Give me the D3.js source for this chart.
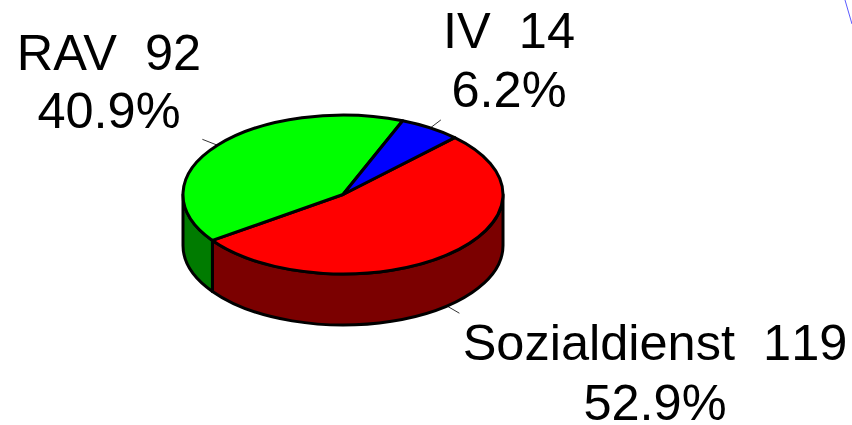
<!DOCTYPE html>
<html>
<head>
<meta charset="utf-8">
<script src="https://cdnjs.cloudflare.com/ajax/libs/d3/7.8.5/d3.min.js"></script>
<style>
html, body { margin: 0; padding: 0; background: #fff; overflow: hidden; }
text { font-family: "Liberation Sans", sans-serif; font-size: 50.5px; fill: #000; text-anchor: middle; }
</style>
</head>
<body>
<div id="chart"></div>
<script>
const categories = ['Sozialdienst', 'RAV', 'IV'];
const counts = [119, 92, 14];
const percents = ['52.9%', '40.9%', '6.2%'];
const topColors = ['#ff0000', '#00ff00', '#0000ff'];
const wallColors = ['#7b0000', '#007b00', '#00007b'];

const width = 852;
const height = 425;
const cx = 343;
const cy = 194.5;
const rx = 160;
const ry = 79.5;
const depth = 51;

// pie starts at the red/blue edge, back right
const startAngle = 44.3 * Math.PI / 180;

const svg = d3.select('#chart')
    .append('svg')
    .attr('width', width)
    .attr('height', height)
    .attr('viewBox', `0 0 ${width} ${height}`);

const pie = d3.pie()
    .sort(null)
    .startAngle(startAngle)
    .endAngle(startAngle + 2 * Math.PI);

const slices = pie(counts).map((d, i) => ({ ...d, i }));

// angle measured clockwise from north, same as d3.pie
function px(a, k = 1) { return cx + k * rx * Math.sin(a); }
function py(a, k = 1) { return cy - k * ry * Math.cos(a); }

function topPath(d) {
    const large = d.endAngle - d.startAngle > Math.PI ? 1 : 0;
    return `M${cx},${cy}L${px(d.startAngle)},${py(d.startAngle)}` +
        `A${rx},${ry} 0 ${large} 1 ${px(d.endAngle)},${py(d.endAngle)}Z`;
}

// front wall only exists between 90 and 270 degrees
function wallPath(d) {
    const lo = Math.PI / 2;
    const hi = 3 * Math.PI / 2;
    const a0 = Math.max(d.startAngle, lo);
    const a1 = Math.min(d.endAngle, hi);
    if (a1 <= a0) return null;
    return `M${px(a0)},${py(a0)}` +
        `A${rx},${ry} 0 0 1 ${px(a1)},${py(a1)}` +
        `L${px(a1)},${py(a1) + depth}` +
        `A${rx},${ry} 0 0 0 ${px(a0)},${py(a0) + depth}Z`;
}

// leader lines go under the pie
const labelPos = [[655, 360, 420], [109, 70, 128], [509, 48, 107]];
slices.forEach(d => {
    const mid = (d.startAngle + d.endAngle) / 2;
    const front = Math.cos(mid) < 0 ? depth : 0;
    svg.append('line')
        .attr('x1', px(mid))
        .attr('y1', py(mid) + front)
        .attr('x2', px(mid, 1.12))
        .attr('y2', py(mid, 1.12) + front)
        .attr('stroke', '#000')
        .attr('stroke-width', 0.8);
});

svg.append('g').selectAll('path')
    .data(slices.filter(d => wallPath(d)))
    .join('path')
    .attr('d', wallPath)
    .attr('fill', d => wallColors[d.i])
    .attr('stroke', '#000')
    .attr('stroke-width', 3)
    .attr('stroke-linejoin', 'round');

svg.append('g').selectAll('path')
    .data(slices)
    .join('path')
    .attr('d', topPath)
    .attr('fill', d => topColors[d.i])
    .attr('stroke', '#000')
    .attr('stroke-width', 3)
    .attr('stroke-linejoin', 'round');

slices.forEach(d => {
    const pos = labelPos[d.i];
    const label = svg.append('text')
        .attr('x', pos[0])
        .attr('y', pos[1])
        .attr('xml:space', 'preserve')
        .style('white-space', 'pre');
    label.append('tspan').text(`${categories[d.i]}  `);
    // digits in the source are not kerned
    label.append('tspan').style('font-kerning', 'none').text(counts[d.i]);
    svg.append('text')
        .attr('x', pos[0])
        .attr('y', pos[2])
        .text(percents[d.i]);
});

// stray blue stroke in the top right corner of the source
svg.append('line')
    .attr('x1', 845)
    .attr('y1', 0)
    .attr('x2', 852)
    .attr('y2', 24)
    .attr('stroke', '#3030ff')
    .attr('stroke-width', 0.8);
</script>
</body>
</html>
